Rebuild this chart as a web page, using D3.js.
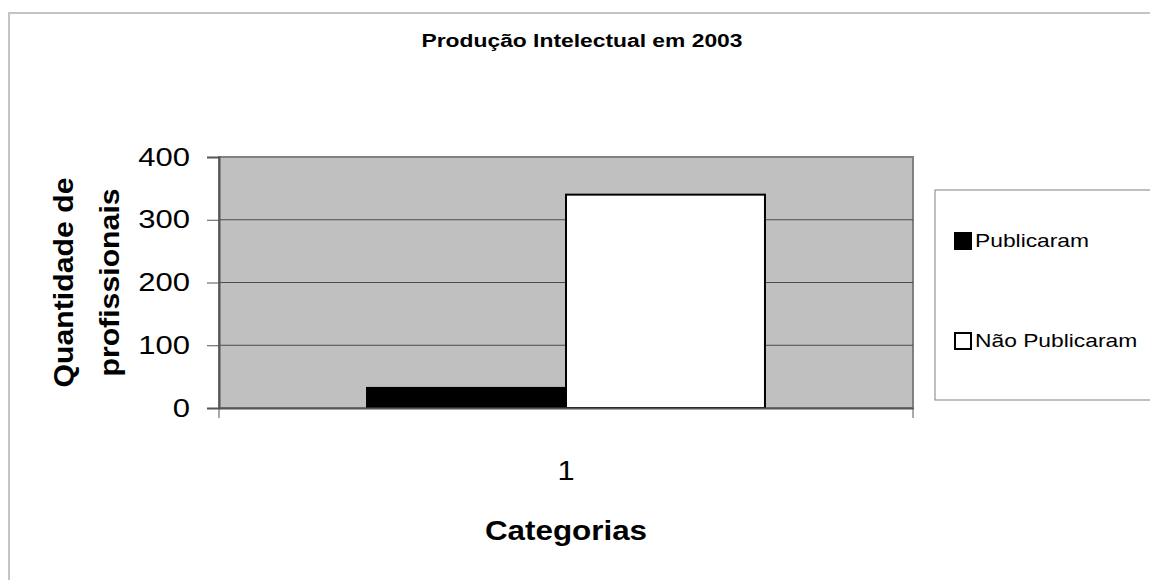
<!DOCTYPE html>
<html>
<head>
<meta charset="utf-8">
<title>Produção Intelectual em 2003</title>
<script src="https://cdn.jsdelivr.net/npm/d3@7"></script>
<style>
  body { margin: 0; background: #ffffff; }
  text { font-family: "Liberation Sans", Arial, sans-serif; fill: #000; }
</style>
</head>
<body>
<script>
// data
var categories = ["1"];
var seriesNames = ["Publicaram", "Não Publicaram"];
var seriesValues = [32, 340];
var seriesColors = ["#000000", "#ffffff"];
var yTicks = [0, 100, 200, 300, 400];

var w = 1150;
var h = 580;
var plot = { left: 219, right: 913, top: 157, bottom: 408 };

// the original picture is stretched sideways, so the text is too
function stretch(sel, k) {
  sel.each(function() {
    var len = this.getComputedTextLength();
    d3.select(this)
      .attr("textLength", len * k)
      .attr("lengthAdjust", "spacingAndGlyphs");
  });
}

var svg = d3.select("body")
  .append("svg")
  .attr("width", w)
  .attr("height", h);

// outer chart border (only top and left are visible)
svg.append("rect")
  .attr("x", 9)
  .attr("y", 13)
  .attr("width", w + 20)
  .attr("height", h + 20)
  .attr("fill", "#ffffff")
  .attr("stroke", "#c4c4c4")
  .attr("stroke-width", 2);

// title
svg.append("text")
  .attr("x", 582)
  .attr("y", 47)
  .attr("text-anchor", "middle")
  .style("font-size", "18px")
  .style("font-weight", "bold")
  .attr("textLength", 321)
  .attr("lengthAdjust", "spacingAndGlyphs")
  .text("Produção Intelectual em 2003");

// scales
var yScale = d3.scaleLinear()
  .domain([0, 400])
  .range([plot.bottom, plot.top]);

var xScale = d3.scaleBand()
  .domain(categories)
  .range([plot.left, plot.right])
  .paddingInner(0)
  .paddingOuter(0.372);

var seriesScale = d3.scaleBand()
  .domain(seriesNames)
  .range([0, xScale.bandwidth()]);

// grey plot area
svg.append("rect")
  .attr("x", plot.left)
  .attr("y", plot.top)
  .attr("width", plot.right - plot.left)
  .attr("height", plot.bottom - plot.top)
  .attr("fill", "#c0c0c0")
  .attr("stroke", "#808080")
  .attr("stroke-width", 2);

// gridlines
svg.append("g")
  .selectAll("line")
  .data(yTicks.filter(function(d) { return d > 0 && d < 400; }))
  .enter()
  .append("line")
  .attr("x1", plot.left)
  .attr("x2", plot.right)
  .attr("y1", function(d) { return yScale(d); })
  .attr("y2", function(d) { return yScale(d); })
  .attr("stroke", "#4a4a4a")
  .attr("stroke-width", 1);

// bars
svg.append("g")
  .selectAll("rect")
  .data(seriesValues)
  .enter()
  .append("rect")
  .attr("x", function(d, i) { return xScale(categories[0]) + seriesScale(seriesNames[i]); })
  .attr("y", function(d) { return yScale(d); })
  .attr("width", seriesScale.bandwidth())
  .attr("height", function(d) { return yScale(0) - yScale(d); })
  .attr("fill", function(d, i) { return seriesColors[i]; })
  .attr("stroke", "#000000")
  .attr("stroke-width", 2);

// y axis
var yAxis = d3.axisLeft(yScale)
  .tickValues(yTicks)
  .tickSize(12)
  .tickPadding(17)
  .tickFormat(d3.format("d"));

var gy = svg.append("g")
  .attr("transform", "translate(" + plot.left + ",0)")
  .call(yAxis);
gy.select(".domain").attr("stroke", "#555555").attr("stroke-width", 2);
gy.selectAll(".tick line").attr("stroke", "#555555");
gy.selectAll(".tick text")
  .style("font-size", "25px")
  .style("font-family", "Liberation Sans, Arial, sans-serif")
  .call(stretch, 1.24);

// x axis
var xAxis = d3.axisBottom(xScale)
  .tickSize(0)
  .tickPadding(52);

var gx = svg.append("g")
  .attr("transform", "translate(0," + plot.bottom + ")")
  .call(xAxis);
gx.select(".domain").attr("stroke", "#555555").attr("stroke-width", 2);
gx.selectAll(".tick text")
  .style("font-size", "28px")
  .style("font-family", "Liberation Sans, Arial, sans-serif")
  .call(stretch, 1.1);

// category boundary ticks
gx.selectAll(".edge")
  .data(xScale.range())
  .enter()
  .append("line")
  .attr("class", "edge")
  .attr("x1", function(d) { return d; })
  .attr("x2", function(d) { return d; })
  .attr("y1", 0)
  .attr("y2", 10)
  .attr("stroke", "#555555");

// axis titles
svg.append("text")
  .attr("x", 566)
  .attr("y", 540)
  .attr("text-anchor", "middle")
  .style("font-size", "28px")
  .style("font-weight", "bold")
  .text("Categorias")
  .call(stretch, 1.12);

var yTitle = svg.append("text")
  .attr("transform", "translate(73," + ((plot.top + plot.bottom) / 2) + ") rotate(-90)")
  .attr("text-anchor", "middle")
  .style("font-size", "27px")
  .style("font-weight", "bold");
yTitle.append("tspan").attr("x", 0).attr("y", 0).text("Quantidade de");
yTitle.append("tspan").attr("x", 0).attr("y", 46).text("profissionais");
yTitle.selectAll("tspan").call(stretch, 1.12);

// legend
var legendG = svg.append("g");

legendG.append("rect")
  .attr("x", 935)
  .attr("y", 190)
  .attr("width", 240)
  .attr("height", 210)
  .attr("fill", "#ffffff")
  .attr("stroke", "#808080")
  .attr("stroke-width", 1);

var items = legendG.selectAll(".item")
  .data(seriesNames)
  .enter()
  .append("g")
  .attr("class", "item")
  .attr("transform", function(d, i) { return "translate(955," + (247 + i * 100) + ")"; });

items.append("rect")
  .attr("x", 0)
  .attr("y", -14)
  .attr("width", 16)
  .attr("height", 16)
  .attr("fill", function(d, i) { return seriesColors[i]; })
  .attr("stroke", "#000000")
  .attr("stroke-width", 2);

items.append("text")
  .attr("x", 20)
  .attr("y", 0)
  .style("font-size", "19px")
  .text(function(d) { return d; })
  .call(stretch, 1.2);
</script>
</body>
</html>
